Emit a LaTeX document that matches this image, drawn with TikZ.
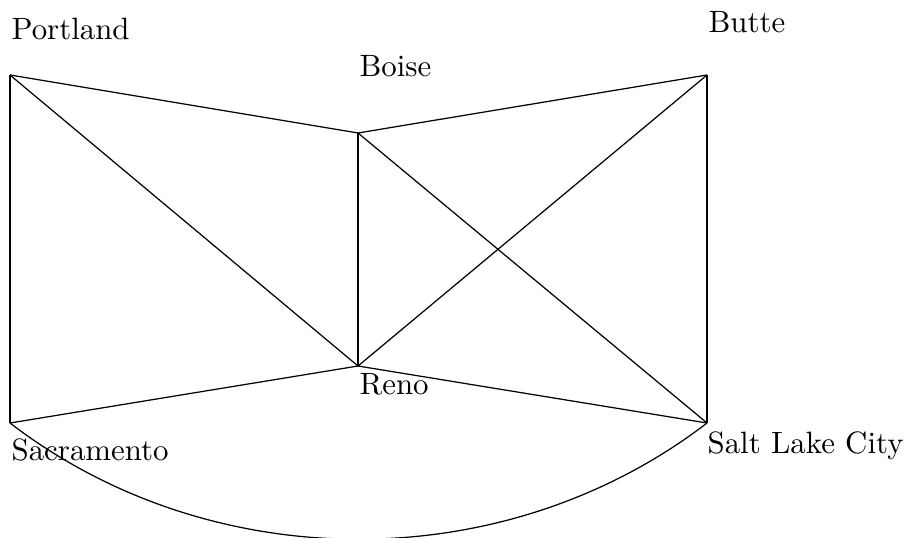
\documentclass[tikz,border=0pt]{standalone}
\usetikzlibrary{calc}
\begin{document}
\begin{tikzpicture}[x=0.324pt,y=-0.324pt,
  city/.style={inner sep=0pt,anchor=base west},
  road/.style={line width=0.4pt}]
\clip (0,0) rectangle (907,537);
% junctions
\coordinate (portland) at (10,75);
\coordinate (boise) at (358,133);
\coordinate (butte) at (707,75);
\coordinate (reno) at (358,366);
\coordinate (sacramento) at (10,423);
\coordinate (slc) at (707,423);
% city names
\node[city] (lportland) at (11,40) {Portland};
\node[city] (lboise) at (359,76) {Boise};
\node[city] (lbutte) at (708,33) {Butte};
\node[city] (lreno) at (359,394) {Reno};
\node[city] (lsacramento) at (11,460) {Sacramento};
\node[city] (lslc) at (707,453) {Salt Lake City};
% roads
\draw[road] (portland) -- (boise);
\draw[road] (portland) -- (sacramento);
\draw[road] (portland) -- (reno);
\draw[road] (boise) -- (butte);
\draw[road] (boise) -- (reno);
\draw[road] (boise) -- (slc);
\draw[road] (butte) -- (reno);
\draw[road] (butte) -- (slc);
\draw[road] (reno) -- (sacramento);
\draw[road] (reno) -- (slc);
\draw[road] (sacramento) .. controls ($(sacramento)+(202,155)$) and ($(slc)+(-202,155)$) .. (slc);
\end{tikzpicture}
\end{document}
